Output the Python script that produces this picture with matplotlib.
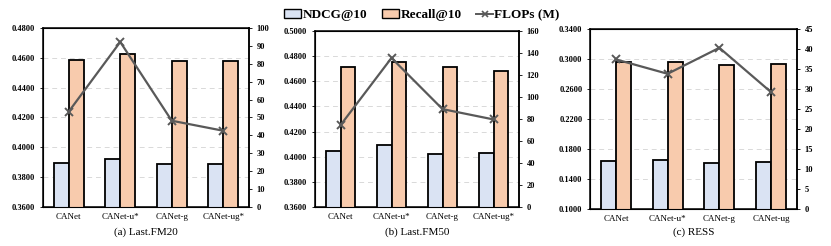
import numpy as np
import matplotlib.pyplot as plt
from matplotlib.lines import Line2D
from matplotlib.patches import Patch

plt.rcParams['font.family'] = ['Liberation Serif', 'DejaVu Serif']

# Data
models_a = ['CANet', 'CANet-u*', 'CANet-g', 'CANet-ug*']
ndcg_a = [0.3895, 0.3924, 0.3891, 0.3886]
recall_a = [0.4588, 0.4626, 0.4581, 0.4581]
flops_a = [53.3, 92.2, 48.2, 42.6]

models_b = ['CANet', 'CANet-u*', 'CANet-g', 'CANet-ug*']
ndcg_b = [0.4047, 0.4092, 0.4023, 0.4031]
recall_b = [0.4711, 0.4751, 0.4711, 0.4685]
flops_b = [74.4, 135.5, 89.0, 79.6]

models_c = ['CANet', 'CANet-u*', 'CANet-g', 'CANet-ug']
ndcg_c = [0.1639, 0.1647, 0.1612, 0.1625]
recall_c = [0.2956, 0.2960, 0.2916, 0.2929]
flops_c = [37.4, 33.8, 40.3, 29.2]

captions = ['(a) Last.FM20', '(b) Last.FM50', '(c) RESS']

NDCG_COLOR = '#dae3f3'
RECALL_COLOR = '#f8cbad'
LINE_COLOR = '#595959'

fig = plt.figure(figsize=(8.31, 2.46), dpi=100)

# axes rectangles in figure fractions (left, bottom, width, height)
W, H = 831, 246
rects = [
    (43 / W, 1 - 207 / H, 206 / W, 179 / H),
    (315 / W, 1 - 207 / H, 204 / W, 176 / H),
    (590 / W, 1 - 209 / H, 207 / W, 180 / H),
]
panels = [
    (models_a, ndcg_a, recall_a, flops_a, (0.36, 0.48, 0.02), (0, 100, 10)),
    (models_b, ndcg_b, recall_b, flops_b, (0.36, 0.50, 0.02), (0, 160, 20)),
    (models_c, ndcg_c, recall_c, flops_c, (0.10, 0.34, 0.04), (0, 45, 5)),
]

width = 0.29
for rect, (models, ndcg, recall, flops, ylim, y2lim), cap in zip(rects, panels, captions):
    ax = fig.add_axes(rect)
    x = np.arange(len(models))
    ax.bar(x - width / 2, ndcg, width, color=NDCG_COLOR, edgecolor='black', linewidth=1.3, zorder=3)
    ax.bar(x + width / 2, recall, width, color=RECALL_COLOR, edgecolor='black', linewidth=1.3, zorder=3)
    ax.set_ylim(ylim[0], ylim[1])
    ax.set_yticks(np.arange(ylim[0], ylim[1] + 1e-9, ylim[2]))
    ax.set_yticklabels([f'{v:.4f}' for v in ax.get_yticks()], fontsize=6, fontweight='bold')
    ax.set_xlim(-0.5, len(models) - 0.5)
    ax.set_xticks(x)
    ax.set_xticklabels(models, fontsize=6.5)
    ax.tick_params(axis='x', length=0, pad=4)
    ax.tick_params(axis='y', length=2, width=0.6)
    ax.yaxis.grid(True, linestyle=(0, (5, 4)), color='#d9d9d9', linewidth=0.7, zorder=0)
    ax.set_axisbelow(True)
    for s in ax.spines.values():
        s.set_linewidth(1.1)

    ax2 = ax.twinx()
    ax2.plot(x, flops, color=LINE_COLOR, linewidth=1.6, marker='x', markersize=6,
             markeredgewidth=1.4, zorder=5)
    ax2.set_ylim(y2lim[0], y2lim[1])
    ax2.set_yticks(np.arange(y2lim[0], y2lim[1] + 1, y2lim[2]))
    ax2.tick_params(axis='y', labelsize=6, length=2, width=0.6)
    for lab in ax2.get_yticklabels():
        lab.set_fontweight('bold')
    ax2.spines['right'].set_linewidth(1.1)

    fig.text(rect[0] + rect[2] / 2, 1 - 232 / H, cap, ha='center', va='center', fontsize=8)

handles = [
    Patch(facecolor=NDCG_COLOR, edgecolor='black', linewidth=1.0, label='NDCG@10'),
    Patch(facecolor=RECALL_COLOR, edgecolor='black', linewidth=1.0, label='Recall@10'),
    Line2D([0], [0], color=LINE_COLOR, linewidth=1.4, marker='x', markersize=5,
           markeredgewidth=1.2, label='FLOPs (M)'),
]
fig.legend(handles=handles, loc='center', bbox_to_anchor=(422 / W, 1 - 15 / H), ncol=3,
           frameon=False, prop={'weight': 'bold', 'size': 9.5}, handlelength=1.3,
           handleheight=0.6, handletextpad=0.1, columnspacing=1.1, borderaxespad=0)

fig.savefig('out.png', dpi=100)
